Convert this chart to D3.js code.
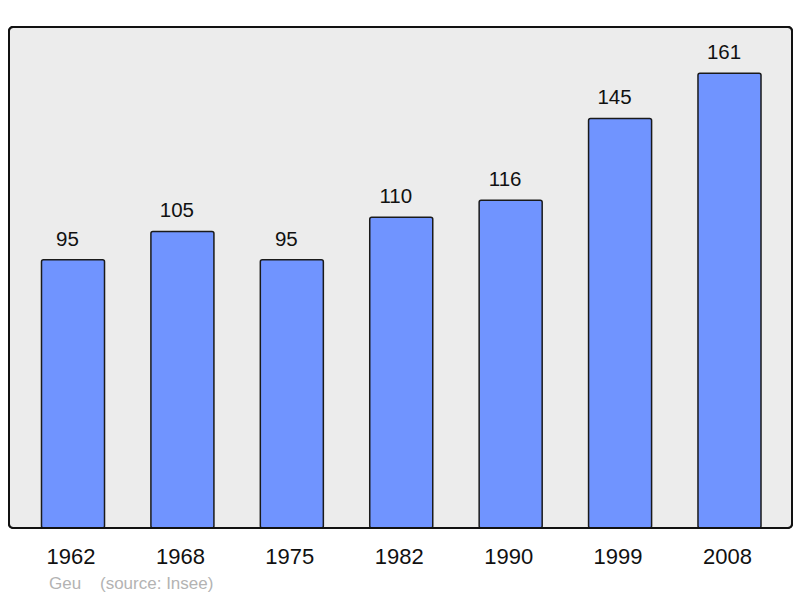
<!DOCTYPE html>
<html><head><meta charset="utf-8">
<script src="https://cdn.jsdelivr.net/npm/d3@7"></script>
<style>html,body{margin:0;padding:0;background:#fff}svg{display:block}</style>
</head><body>
<script>
const years = ["1962","1968","1975","1982","1990","1999","2008"];
const population = [95,105,95,110,116,145,161];
const sourceLabel = "Geu";
const sourceNote = "(source: Insee)";

const W = 800, H = 598;
const svg = d3.select("body").append("svg").attr("width", W).attr("height", H);
const font = "Liberation Sans, Arial, sans-serif";

svg.append("rect").attr("x",9).attr("y",27).attr("width",783).attr("height",501)
  .attr("rx",4).attr("fill","#ececec").attr("stroke","#111").attr("stroke-width",2);

const x = d3.scaleBand().domain(years).range([18.3,784.2]).paddingInner(0.424).paddingOuter(0.212);
const y = d3.scaleLinear().domain([0,177.35]).range([528,27]);

svg.selectAll("rect.bar").data(years).join("rect").attr("class","bar")
  .attr("x", d=>x(d)).attr("width", x.bandwidth())
  .attr("y", (d,i)=>y(population[i])).attr("height",(d,i)=>y(0)-y(population[i]))
  .attr("rx",2).attr("fill","#7094ff").attr("stroke","#1a1a1a").attr("stroke-width",1.5);

svg.selectAll("text.val").data(years).join("text").attr("class","val")
  .attr("x", d=>x(d)+x.bandwidth()/2-5.5).attr("y",(d,i)=>y(population[i])-14)
  .attr("text-anchor","middle").attr("font-family",font).attr("font-size",20.5).attr("fill","#111")
  .text((d,i)=>population[i]);

svg.selectAll("text.year").data(years).join("text").attr("class","year")
  .attr("x", d=>x(d)+x.bandwidth()/2-2).attr("y",564)
  .attr("text-anchor","middle").attr("font-family",font).attr("font-size",22).attr("fill","#111")
  .text(d=>d);

svg.append("rect").attr("x",9).attr("y",27).attr("width",783).attr("height",501)
  .attr("rx",4).attr("fill","none").attr("stroke","#111").attr("stroke-width",2);

svg.append("text").attr("x",49).attr("y",589).attr("font-family",font).attr("font-size",17)
  .attr("fill","#b3b3b3").text(sourceLabel);
svg.append("text").attr("x",100).attr("y",589).attr("font-family",font).attr("font-size",17)
  .attr("fill","#b3b3b3").text(sourceNote);
</script>
</body></html>
